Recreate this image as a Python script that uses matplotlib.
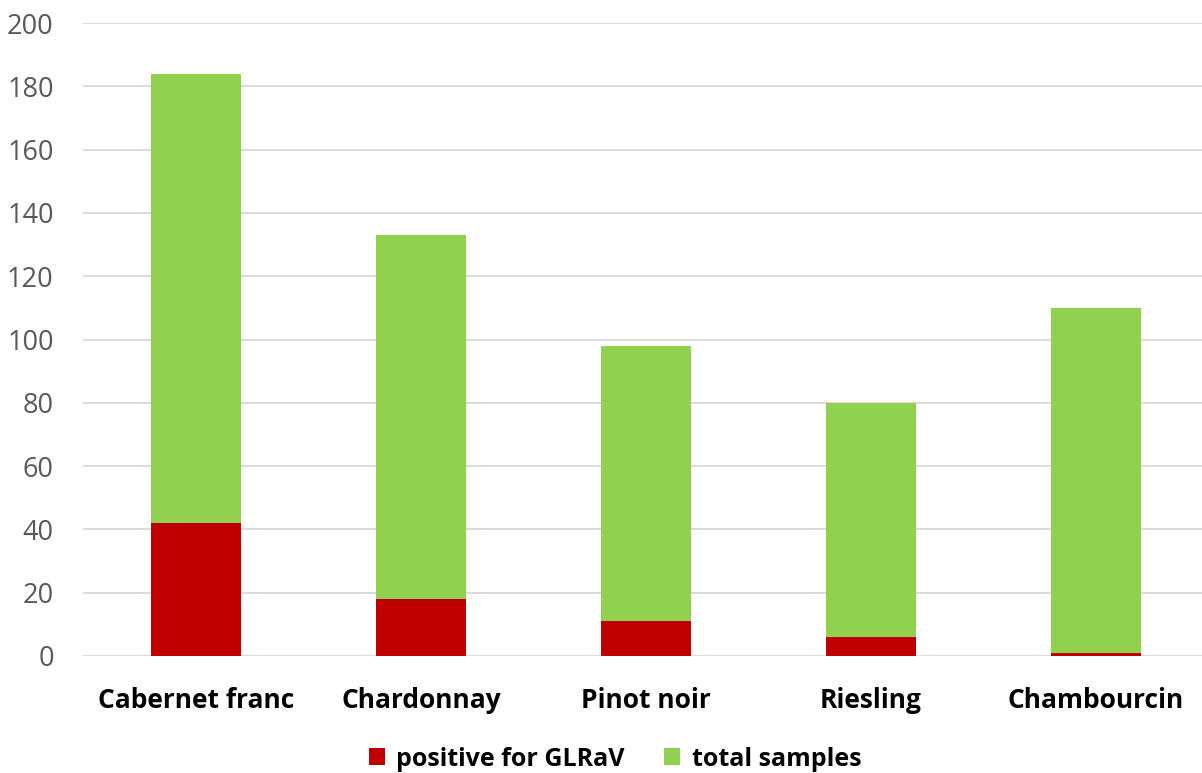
import matplotlib.pyplot as plt

varieties = ['Cabernet franc', 'Chardonnay', 'Pinot noir', 'Riesling', 'Chambourcin']
positive = [42, 18, 11, 6, 1]
total = [184, 133, 98, 80, 110]

plt.rcParams['font.family'] = ['Open Sans', 'DejaVu Sans']

fig = plt.figure(figsize=(12.02, 7.73), dpi=100)
ax = fig.add_axes([83.5 / 1202, 117 / 773, 1125 / 1202, 633 / 773])

x = range(len(varieties))
ax.bar(x, total, width=0.4, color='#92D050', label='total samples', zorder=2)
ax.bar(x, positive, width=0.4, color='#C00000', label='positive for GLRaV', zorder=3)

ax.set_xlim(-0.5, len(varieties) - 0.5)
ax.set_ylim(0, 200)
ax.set_yticks(range(0, 201, 20))
ax.grid(axis='y', color='#d9d9d9', linewidth=1.3, zorder=0)
for s in ax.spines.values():
    s.set_visible(False)
ax.tick_params(axis='y', length=0, pad=21.5, labelsize=19.5, labelcolor='#595959')
ax.tick_params(axis='x', length=0, pad=22)
ax.set_xticks(list(x))
ax.set_xticklabels(varieties, fontsize=19, fontweight='bold', color='black')

handles, labels = ax.get_legend_handles_labels()
fig.legend(handles[::-1], labels[::-1], loc='center', bbox_to_anchor=(615 / 1202, 1 - 759 / 773),
           ncol=2, frameon=False, prop={'size': 18, 'weight': 'bold'},
           handlelength=0.64, handleheight=0.64, handletextpad=0.45, columnspacing=1.6)

fig.savefig('out.png', dpi=100)
